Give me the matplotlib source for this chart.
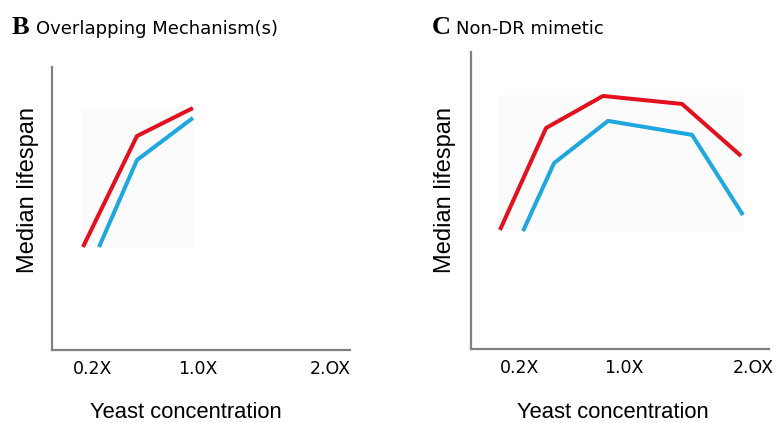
import numpy as np
import matplotlib.pyplot as plt

# yeast concentration (x) and schematic median lifespan (arbitrary units 0-100)
tick_pos = [0.2, 1.0, 2.0]
tick_labels = ["0.2X", "1.0X", "2.OX"]

b_red_x = [0.124, 0.534, 0.959]
b_red_y = [36.4, 75.6, 85.5]
b_blue_x = [0.246, 0.534, 0.959]
b_blue_y = [36.4, 67.1, 82.0]

c_red_x = [0.045, 0.401, 0.841, 1.452, 1.908]
c_red_y = [40.1, 74.4, 85.2, 82.5, 65.0]
c_blue_x = [0.223, 0.463, 0.880, 1.529, 1.923]
c_blue_y = [39.7, 62.6, 76.8, 72.1, 45.1]

RED = "#e3101e"
BLUE = "#1fa8e0"

fig = plt.figure(figsize=(7.76, 4.23), dpi=100)
W, H = 776, 423


def make_ax(x0, x1, y_top, y_bot):
    return fig.add_axes([x0 / W, 1 - y_bot / H, (x1 - x0) / W, (y_bot - y_top) / H])


def style(ax, xlim, ylab_x, xlab_x, title_letter, title_text, title_x, title_y):
    ax.set_xlim(*xlim)
    ax.set_ylim(0, 100)
    for s in ["top", "right"]:
        ax.spines[s].set_visible(False)
    for s in ["left", "bottom"]:
        ax.spines[s].set_color("#808080")
        ax.spines[s].set_linewidth(1.6)
    ax.set_yticks([])
    ax.set_xticks(tick_pos)
    ax.set_xticklabels(tick_labels, fontsize=12.5, family="DejaVu Sans")
    ax.tick_params(axis="x", length=0, pad=7)
    fig.text(ylab_x / W, 1 - 190 / H, "Median lifespan", rotation=90, fontsize=17,
             family="Liberation Sans", ha="center", va="center")
    fig.text(xlab_x / W, 1 - 412 / H, "Yeast concentration", fontsize=15.8,
             family="Liberation Sans", ha="center", va="center")
    fig.text(title_x / W, 1 - title_y / H, title_letter, fontsize=19, fontweight="bold",
             family="Liberation Serif", ha="left", va="baseline")
    fig.text((title_x + 24) / W, 1 - title_y / H, title_text, fontsize=13,
             family="DejaVu Sans", ha="left", va="baseline")


# panel B
axb = make_ax(52, 350, 67, 350)
style(axb, (-0.111, 2.152), 28, 186, "B", "Overlapping Mechanism(s)", 12, 34)
axb.fill_between([0.116, 0.967], 36.4, 85.5, color="#fbfbfb", lw=0, zorder=0)
axb.plot(b_red_x, b_red_y, color=RED, lw=2.9, solid_capstyle="butt")
axb.plot(b_blue_x, b_blue_y, color=BLUE, lw=2.9, solid_capstyle="butt")

# panel C
axc = make_ax(471, 769, 52, 349)
style(axc, (-0.179, 2.124), 445, 613, "C", "Non-DR mimetic", 432, 34)
axc.fill_between([0.030, 1.931], 39.7, 85.5, color="#fbfbfb", lw=0, zorder=0)
axc.plot(c_red_x, c_red_y, color=RED, lw=2.9, solid_capstyle="butt")
axc.plot(c_blue_x, c_blue_y, color=BLUE, lw=2.9, solid_capstyle="butt")

fig.savefig("out.png", dpi=100)
